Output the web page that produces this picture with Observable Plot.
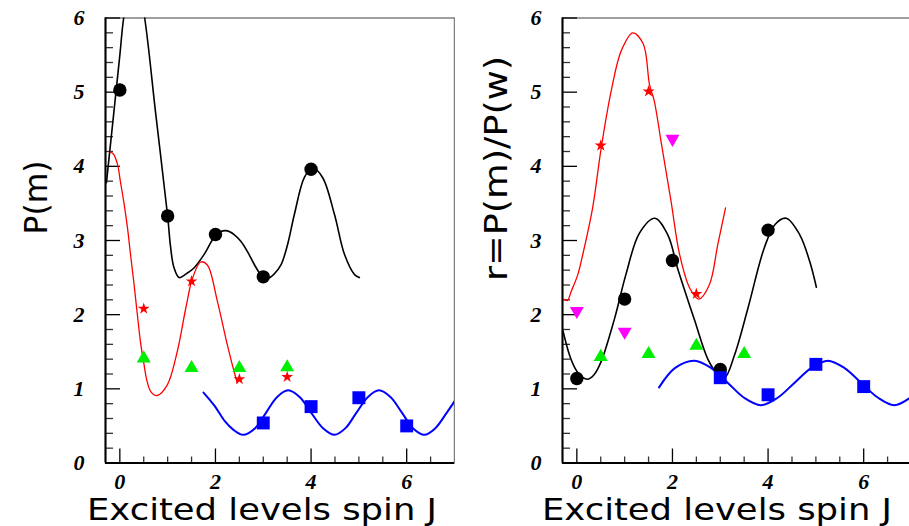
<!DOCTYPE html>
<html><head><meta charset="utf-8">
<script src="https://cdn.jsdelivr.net/npm/d3@7"></script>
<script src="https://cdn.jsdelivr.net/npm/@observablehq/plot@0.6"></script>
<style>
html,body{margin:0;padding:0;overflow:hidden;background:#fff;}
#wrap{display:flex;width:912px;height:526px;}
#wrap svg{flex:none;display:block;}
</style></head><body><div id="wrap"></div>
<script>
// ---------- axes / ticks ----------
const xDomain = [-0.3, 7];
const yDomain = [0, 6];
const yMajorTicks = [0, 1, 2, 3, 4, 5, 6];
const yMinorTicks = d3.range(0.2, 6, 0.2).filter(v => Math.abs(v - Math.round(v)) > 1e-6);
const xMajorTicks = [0, 2, 4, 6];
const xMinorTicks = [0.5, 1, 1.5, 2.5, 3, 3.5, 4.5, 5, 5.5, 6.5];
const xTitle = "Excited levels spin J";
const yTitleLeft = "P(m)";
const yTitleRight = "r=P(m)/P(w)";

// ---------- left panel: P(m) ----------
const L_circleJ = [0, 1, 2, 3, 4];
const L_circleV = [5.03, 3.33, 3.08, 2.51, 3.96];
const L_starJ = [0.5, 1.5, 2.5, 3.5];
const L_starV = [2.08, 2.45, 1.13, 1.16];
const L_triJ = [0.5, 1.5, 2.5, 3.5];
const L_triV = [1.41, 1.28, 1.28, 1.29];
const L_sqJ = [3, 4, 5, 6];
const L_sqV = [0.54, 0.76, 0.88, 0.50];

const L_blackJ = [-0.28, 0.0, 0.08, 0.3, 0.52, 0.75, 1.0, 1.06, 1.13, 1.24, 1.41, 1.55, 1.76, 1.97, 2.11, 2.25, 2.39, 2.53, 2.67, 2.81, 2.95, 3.09, 3.23, 3.37, 3.51, 3.65, 3.86, 4.03, 4.24, 4.49, 4.70, 4.91, 5.01];
const L_blackV = [3.78, 5.5, 6.0, 6.8, 6.0, 4.71, 3.33, 2.92, 2.64, 2.50, 2.56, 2.63, 2.81, 3.04, 3.12, 3.13, 3.08, 2.99, 2.85, 2.68, 2.54, 2.49, 2.55, 2.67, 2.95, 3.35, 3.85, 3.98, 3.85, 3.35, 2.81, 2.54, 2.50];
const L_redJ = [-0.2, -0.14, -0.05, 0.01, 0.08, 0.16, 0.22, 0.29, 0.36, 0.43, 0.5, 0.57, 0.65, 0.78, 0.99, 1.2, 1.38, 1.52, 1.69, 1.83, 2.04, 2.25, 2.43, 2.46];
const L_redV = [4.19, 4.17, 4.03, 3.80, 3.53, 3.17, 2.83, 2.45, 2.04, 1.64, 1.35, 1.10, 0.96, 0.91, 1.05, 1.50, 2.09, 2.49, 2.71, 2.67, 2.18, 1.59, 1.14, 1.08];
const L_blueJ = [1.75, 1.97, 2.2, 2.37, 2.58, 2.83, 3.06, 3.29, 3.52, 3.76, 4.0, 4.25, 4.49, 4.72, 4.95, 5.19, 5.42, 5.66, 5.9, 6.13, 6.37, 6.6, 6.84, 7.02];
const L_blueV = [0.95, 0.78, 0.56, 0.45, 0.38, 0.47, 0.68, 0.89, 0.98, 0.89, 0.68, 0.47, 0.38, 0.47, 0.68, 0.89, 0.98, 0.89, 0.68, 0.47, 0.38, 0.47, 0.68, 0.85];

// ---------- right panel: r = P(m)/P(w) ----------
const R_circleJ = [0, 1, 2, 3, 4];
const R_circleV = [1.14, 2.21, 2.73, 1.26, 3.14];
const R_starJ = [0.5, 1.5, 2.5];
const R_starV = [4.28, 5.01, 2.28];
const R_downJ = [0, 1, 2];
const R_downV = [2.05, 1.77, 4.37];
const R_triJ = [0.5, 1.5, 2.5, 3.5];
const R_triV = [1.43, 1.47, 1.58, 1.47];
const R_sqJ = [3, 4, 5, 6];
const R_sqV = [1.15, 0.92, 1.33, 1.03];

const R_blackJ = [-0.29, -0.15, -0.03, 0.1, 0.23, 0.36, 0.51, 0.79, 1.03, 1.31, 1.63, 1.90, 2.11, 2.46, 2.74, 2.92, 3.09, 3.30, 3.58, 3.92, 4.15, 4.38, 4.66, 4.87, 5.01];
const R_blackV = [1.78, 1.45, 1.27, 1.16, 1.13, 1.19, 1.37, 1.95, 2.55, 3.10, 3.30, 3.08, 2.62, 1.93, 1.40, 1.22, 1.15, 1.46, 2.09, 2.90, 3.22, 3.30, 3.08, 2.72, 2.37];
const R_redJ = [-0.28, -0.2, -0.12, 0.02, 0.12, 0.33, 0.51, 0.72, 0.93, 1.17, 1.39, 1.52, 1.62, 1.76, 1.97, 2.15, 2.36, 2.55, 2.77, 2.95, 3.11];
const R_redV = [2.21, 2.19, 2.31, 2.54, 2.80, 3.44, 4.25, 5.02, 5.56, 5.80, 5.65, 5.10, 4.88, 4.34, 3.53, 2.81, 2.36, 2.21, 2.40, 2.95, 3.44];
const R_blueJ = [1.72, 2.05, 2.46, 2.81, 3.16, 3.50, 3.85, 4.20, 4.55, 4.90, 5.25, 5.60, 5.95, 6.30, 6.64, 6.97];
const R_blueV = [1.02, 1.28, 1.38, 1.28, 1.08, 0.88, 0.78, 0.88, 1.08, 1.28, 1.38, 1.28, 1.08, 0.88, 0.78, 0.88];

// ---------- helpers ----------
const pts = (J, V) => J.map((j, i) => ({J: j, V: V[i]}));
const triDown = {
  draw(ctx, size) {
    const y = Math.sqrt(size / (3 * Math.sqrt(3)));
    ctx.moveTo(0, 2 * y);
    ctx.lineTo(-Math.sqrt(3) * y, -y);
    ctx.lineTo(Math.sqrt(3) * y, -y);
    ctx.closePath();
  }
};
const tickFont = {fontFamily: "Liberation Serif", fontSize: 22, fontStyle: "italic", fontWeight: "bold", fill: "#000", tickFormat: d3.format("d")};

function curve(J, V, color, w) {
  return Plot.line(pts(J, V), {x: "J", y: "V", stroke: color, strokeWidth: w, curve: "catmull-rom", clip: true});
}
function dots(J, V, symbol, color, r) {
  return Plot.dot(pts(J, V), {x: "J", y: "V", symbol, fill: color, stroke: "none", r});
}

const HEIGHT = 526, MT = 17.5, MB = 63.5, MR = 1;

function makePanel({width, marginLeft, lines, markers, yTitle, yTitleX, yTitleY, yTitleLen}) {
  const fw = width - marginLeft - MR;       // frame width in px
  const fh = HEIGHT - MT - MB;              // frame height in px
  const pxX = fw / (xDomain[1] - xDomain[0]);  // px per x unit
  const pxY = fh / (yDomain[1] - yDomain[0]);  // px per y unit
  const tickLenX = px => px / pxX;             // tick length expressed in x units
  const tickLenY = px => px / pxY;
  const plot = Plot.plot({
    width, height: HEIGHT,
    marginLeft, marginRight: MR, marginTop: MT, marginBottom: MB,
    x: {domain: xDomain},
    y: {domain: yDomain},
    style: {background: "#fff", color: "#000"},
    marks: [
      Plot.frame({stroke: "#808080", strokeWidth: 1.5}),
      // inward ticks
      Plot.ruleY(yMinorTicks, {y: d => d, x1: xDomain[0], x2: xDomain[0] + tickLenX(8), stroke: "#333", strokeWidth: 1.3}),
      Plot.ruleY(yMajorTicks, {y: d => d, x1: xDomain[0], x2: xDomain[0] + tickLenX(15), stroke: "#000", strokeWidth: 1.3}),
      Plot.ruleX(xMinorTicks, {x: d => d, y1: yDomain[0], y2: yDomain[0] + tickLenY(6), stroke: "#333", strokeWidth: 1.3}),
      Plot.ruleX(xMajorTicks, {x: d => d, y1: yDomain[0], y2: yDomain[0] + tickLenY(14), stroke: "#000", strokeWidth: 1.3}),
      // tick labels
      Plot.axisY(yMajorTicks, {anchor: "left", tickSize: 0, tickPadding: 21, label: null, ...tickFont}),
      Plot.axisX(xMajorTicks, {anchor: "bottom", tickSize: 0, tickPadding: 10, label: null, ...tickFont}),
      // axis lines
      Plot.ruleX([xDomain[0]], {stroke: "#000", strokeWidth: 2}),
      Plot.ruleY([yDomain[0]], {stroke: "#000", strokeWidth: 2}),
      ...lines,
      ...markers
    ]
  });
  const svg = d3.select(plot);
  svg.append("text")
    .attr("x", 87).attr("y", 520)
    .attr("text-anchor", "start")
    .attr("font-family", "DejaVu Sans").attr("font-size", 30).attr("fill", "#000")
    .attr("textLength", 350).attr("lengthAdjust", "spacingAndGlyphs")
    .text(xTitle);
  svg.append("text")
    .attr("transform", `translate(${yTitleX},${yTitleY}) rotate(-90)`)
    .attr("text-anchor", "start")
    .attr("font-family", "DejaVu Sans").attr("font-size", 32).attr("fill", "#000")
    .attr("textLength", yTitleLen).attr("lengthAdjust", "spacingAndGlyphs")
    .text(yTitle);
  return plot;
}

const left = makePanel({
  width: 455, marginLeft: 105,
  lines: [
    curve(L_blackJ, L_blackV, "#000", 1.6),
    curve(L_redJ, L_redV, "#ff0000", 1.3),
    curve(L_blueJ, L_blueV, "#0000ff", 2)
  ],
  markers: [
    dots(L_circleJ, L_circleV, "circle", "#000", 6.7),
    dots(L_triJ, L_triV, "triangle", "#00ee00", 5.2),
    dots(L_starJ, L_starV, "star", "#ff0000", 3.7),
    dots(L_sqJ, L_sqV, "square", "#0000ff", 7.3)
  ],
  yTitle: yTitleLeft, yTitleX: 47, yTitleY: 234.5, yTitleLen: 74
});

const right = makePanel({
  width: 457, marginLeft: 107,
  lines: [
    curve(R_blackJ, R_blackV, "#000", 1.6),
    curve(R_redJ, R_redV, "#ff0000", 1.3),
    curve(R_blueJ, R_blueV, "#0000ff", 2)
  ],
  markers: [
    dots(R_circleJ, R_circleV, "circle", "#000", 6.7),
    dots(R_triJ, R_triV, "triangle", "#00ee00", 5.2),
    dots(R_downJ, R_downV, triDown, "#ff00ff", 5.2),
    dots(R_starJ, R_starV, "star", "#ff0000", 3.8),
    dots(R_sqJ, R_sqV, "square", "#0000ff", 7.3)
  ],
  yTitle: yTitleRight, yTitleX: 52, yTitleY: 281, yTitleLen: 225
});

document.getElementById("wrap").append(left, right);
</script></body></html>
